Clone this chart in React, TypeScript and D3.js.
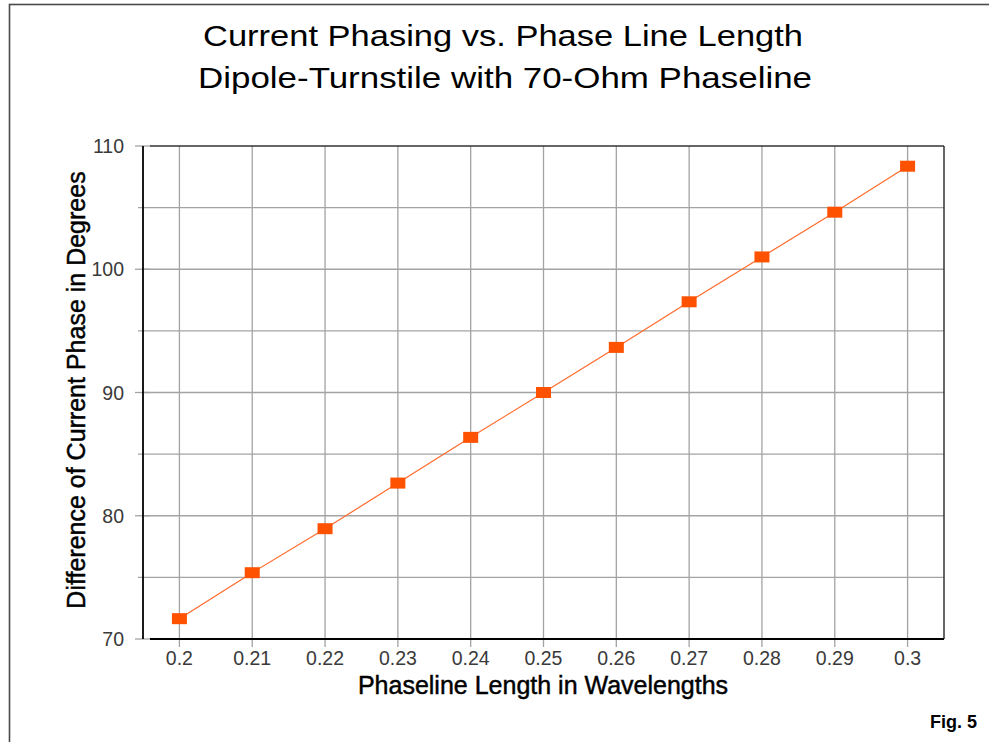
import React from "react";
import * as d3 from "d3";

const lengths = [0.2, 0.21, 0.22, 0.23, 0.24, 0.25, 0.26, 0.27, 0.28, 0.29, 0.3];
const phaseDiff = [71.65, 75.38, 78.95, 82.65, 86.36, 90.0, 93.66, 97.36, 101.0, 104.63, 108.36];
const xTicks = [0.2, 0.21, 0.22, 0.23, 0.24, 0.25, 0.26, 0.27, 0.28, 0.29, 0.3];
const yMajorTicks = [70, 80, 90, 100, 110];
const yMinorTicks = [75, 85, 95, 105];
const titleLines = ["Current Phasing vs. Phase Line Length", "Dipole-Turnstile with 70-Ohm Phaseline"];
const xTitle = "Phaseline Length in Wavelengths";
const yTitle = "Difference of Current Phase in Degrees";
const figLabel = "Fig. 5";

const W = 989;
const H = 742;
const L = 143, R = 944, T = 146, B = 639;
const FONT = "'Liberation Sans', Arial, sans-serif";

export default function App() {
  const x = d3.scaleLinear().domain([0.195, 0.305]).range([L, R]);
  const y = d3.scaleLinear().domain([70, 110]).range([B, T]);
  const line = d3
    .line<number>()
    .x((_, i) => x(lengths[i]))
    .y((d) => y(d));
  const gridColor = "#a3a3a3";
  const mw = 15, mh = 11;
  return (
    <svg
      width={W}
      height={H}
      style={{ position: "absolute", left: 0, top: 0, display: "block", background: "#fff" }}
      fontFamily={FONT}
    >
      <rect x={0} y={0} width={W} height={H} fill="#fff" />
      <rect x={9.5} y={4.5} width={W + 20} height={H + 20} fill="none" stroke="#4a4a4a" strokeWidth={1.6} />

      {/* title */}
      <text x={503} y={46} fontSize={30} textAnchor="middle" fill="#000" textLength={600} lengthAdjust="spacingAndGlyphs">
        {titleLines[0]}
      </text>
      <text x={505} y={88} fontSize={30} textAnchor="middle" fill="#000" textLength={614} lengthAdjust="spacingAndGlyphs">
        {titleLines[1]}
      </text>

      {/* grid */}
      {xTicks.map((t) => (
        <line key={"vx" + t} x1={x(t)} x2={x(t)} y1={T} y2={B + 8} stroke={gridColor} strokeWidth={1.3} />
      ))}
      {yMinorTicks.map((t) => (
        <line key={"hy" + t} x1={L - 5} x2={R} y1={y(t)} y2={y(t)} stroke={gridColor} strokeWidth={1.3} />
      ))}
      {yMajorTicks.map((t) => (
        <line key={"hM" + t} x1={L - 8} x2={L + 7} y1={y(t)} y2={y(t)} stroke={gridColor} strokeWidth={1.3} />
      ))}
      {[80, 90, 100].map((t) => (
        <line key={"hMg" + t} x1={L} x2={R} y1={y(t)} y2={y(t)} stroke={gridColor} strokeWidth={1.3} />
      ))}

      {/* frame */}
      <line x1={L + 7} x2={R} y1={T} y2={T} stroke="#333" strokeWidth={1.5} />
      <line x1={R} x2={R} y1={T} y2={B} stroke="#333" strokeWidth={1.5} />
      <line x1={L} x2={L} y1={T} y2={B} stroke="#000" strokeWidth={1.8} />
      <line x1={L + 7} x2={R} y1={B} y2={B} stroke="#000" strokeWidth={1.8} />

      {/* y labels */}
      {yMajorTicks.map((t) => (
        <text key={"yl" + t} x={124} y={y(t) + 7} fontSize={19.5} textAnchor="end" fill="#3a3a3a">
          {t}
        </text>
      ))}
      {/* x labels */}
      {xTicks.map((t) => (
        <text key={"xl" + t} x={x(t)} y={665} fontSize={19.5} textAnchor="middle" fill="#3a3a3a">
          {d3.format("")(t)}
        </text>
      ))}

      {/* axis titles */}
      <text x={543} y={694} fontSize={25} textAnchor="middle" fill="#000" stroke="#000" strokeWidth={0.45}>
        {xTitle}
      </text>
      <text transform={`translate(85,390) rotate(-90)`} fontSize={25} textAnchor="middle" fill="#000" stroke="#000" strokeWidth={0.45}>
        {yTitle}
      </text>

      {/* series */}
      <path d={line(phaseDiff) || ""} fill="none" stroke="#ff6a2a" strokeWidth={1.2} />
      {phaseDiff.map((v, i) => (
        <rect
          key={"m" + i}
          x={x(lengths[i]) - mw / 2}
          y={y(v) - mh / 2}
          width={mw}
          height={mh}
          fill="#ff5200"
        />
      ))}

      <text x={977} y={728} fontSize={18} fontWeight="bold" textAnchor="end" fill="#000">
        {figLabel}
      </text>
    </svg>
  );
}
